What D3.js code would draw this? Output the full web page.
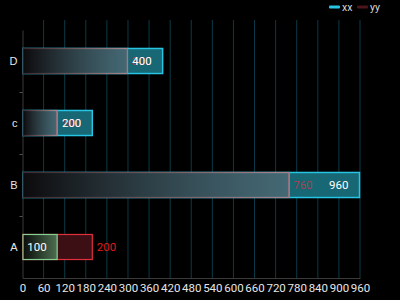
<!DOCTYPE html>
<html>
<head>
<meta charset="utf-8">
<script src="https://cdn.jsdelivr.net/npm/d3@7"></script>
<style>
  html, body { margin: 0; padding: 0; background: #000; }
  svg { display: block; font-family: Roboto, "Noto Sans", sans-serif; }
  .narrow { font-family: "Liberation Sans Narrow", Roboto, sans-serif; }
</style>
</head>
<body>
<div id="chart"></div>
<script>
const categories = ['A', 'B', 'c', 'D'];
const xxValues = [100, 960, 200, 400];
const yyValues = [200, 760, 100, 300];
const xTicks = [0, 60, 120, 180, 240, 300, 360, 420, 480, 540, 600, 660, 720, 780, 840, 900, 960];
const seriesNames = ['xx', 'yy'];

const width = 400;
const height = 300;
const margin = {top: 30, right: 40, bottom: 22, left: 22.5};

const svg = d3.select('#chart').append('svg')
  .attr('width', width)
  .attr('height', height);

const defs = svg.append('defs');

const yyFill = defs.append('linearGradient').attr('id', 'yy-fill');
yyFill.append('stop').attr('offset', '0%').attr('stop-color', '#0c0a0c').attr('stop-opacity', 1);
yyFill.append('stop').attr('offset', '100%').attr('stop-color', '#5c6a74').attr('stop-opacity', 0.65);

const yyStroke = defs.append('linearGradient').attr('id', 'yy-stroke');
yyStroke.append('stop').attr('offset', '0%').attr('stop-color', '#3a2a30');
yyStroke.append('stop').attr('offset', '100%').attr('stop-color', '#a88890');

const greenFill = defs.append('linearGradient').attr('id', 'green-fill');
greenFill.append('stop').attr('offset', '0%').attr('stop-color', '#0a0c0a');
greenFill.append('stop').attr('offset', '100%').attr('stop-color', '#4d6e50');

const x = d3.scaleLinear()
  .domain([0, 960])
  .range([margin.left, width - margin.right]);

const y = d3.scaleBand()
  .domain(categories.slice().reverse())
  .range([margin.top, height - margin.bottom]);

const barH = y.bandwidth() * 0.42;
const barY = c => y(c) + (y.bandwidth() - barH) / 2;

// vertical grid
svg.append('g')
  .selectAll('line')
  .data(xTicks.slice(1))
  .enter().append('line')
    .attr('x1', d => x(d)).attr('x2', d => x(d))
    .attr('y1', margin.top - 10).attr('y2', height - margin.bottom)
    .attr('stroke', '#0b3a47')
    .attr('stroke-width', 1);

// x axis
const xAxis = svg.append('g')
  .attr('transform', `translate(0,${height - margin.bottom})`)
  .call(d3.axisBottom(x).tickValues(xTicks).tickSize(0).tickPadding(6));
xAxis.select('.domain').attr('stroke', '#3a3a3a');
xAxis.selectAll('text').attr('class', 'narrow').attr('fill', '#e6e6e6').style('font-size', '11.5px');

// y axis
const yAxis = svg.append('g')
  .attr('transform', `translate(${margin.left},0)`)
  .call(d3.axisLeft(y).tickSize(0).tickPadding(5));
yAxis.select('.domain').attr('stroke', '#3a3a3a');
yAxis.selectAll('text').attr('fill', '#e6e6e6').style('font-size', '11px');
yAxis.selectAll('.band-tick')
  .data(categories.slice(1))
  .enter().append('line')
    .attr('x1', -3).attr('x2', 0)
    .attr('y1', c => y(c) + y.bandwidth() + 0.5)
    .attr('y2', c => y(c) + y.bandwidth() + 0.5)
    .attr('stroke', '#555');

const rows = categories.map((c, i) => ({cat: c, xx: xxValues[i], yy: yyValues[i]}));
const bars = svg.append('g');
const labelSize = '11.5px';

rows.forEach(r => {
  const g = bars.append('g');
  const midY = barY(r.cat) + barH / 2;
  if (r.cat === 'A') {
    g.append('rect')
      .attr('x', x(0) + 0.5).attr('y', barY(r.cat) + 0.5)
      .attr('width', x(r.yy) - x(0) - 1).attr('height', barH - 1)
      .attr('fill', '#3c0f15').attr('stroke', '#e0303c').attr('stroke-width', 1.2);
    g.append('rect')
      .attr('x', x(0) + 0.5).attr('y', barY(r.cat) + 0.5)
      .attr('width', x(r.xx) - x(0) - 1).attr('height', barH - 1)
      .attr('fill', 'url(#green-fill)').attr('stroke', '#86cf92').attr('stroke-width', 1.2);
    g.append('text').attr('class', 'narrow')
      .attr('x', x(r.yy) + 4).attr('y', midY)
      .attr('dy', '0.35em').attr('fill', '#e01a1a').style('font-size', labelSize)
      .text(r.yy);
    g.append('text').attr('class', 'narrow')
      .attr('x', x(r.xx) - 11).attr('y', midY)
      .attr('dy', '0.35em').attr('text-anchor', 'end').attr('fill', '#fff').style('font-size', labelSize)
      .text(r.xx);
  } else {
    g.append('rect')
      .attr('x', x(0) + 0.5).attr('y', barY(r.cat) + 0.5)
      .attr('width', x(r.xx) - x(0) - 1).attr('height', barH - 1)
      .attr('fill', '#176775').attr('stroke', '#27c4e4').attr('stroke-width', 1.5);
    g.append('rect')
      .attr('x', x(0) + 0.5).attr('y', barY(r.cat) + 0.5)
      .attr('width', x(r.yy) - x(0) - 1).attr('height', barH - 1)
      .attr('fill', 'url(#yy-fill)').attr('stroke', 'url(#yy-stroke)').attr('stroke-width', 1.2);
    g.append('line')
      .attr('x1', x(r.yy) - 0.5).attr('x2', x(r.yy) - 0.5)
      .attr('y1', barY(r.cat) + 0.5).attr('y2', barY(r.cat) + barH - 0.5)
      .attr('stroke', '#c06a7c').attr('stroke-width', 1.2);
    g.append('text').attr('class', 'narrow')
      .attr('x', x(r.yy) + 3.5).attr('y', midY)
      .attr('dy', '0.35em').attr('fill', '#a8404e').style('font-size', labelSize)
      .text(r.yy);
    g.append('text').attr('class', 'narrow')
      .attr('x', x(r.xx) - 11.5).attr('y', midY)
      .attr('dy', '0.35em').attr('text-anchor', 'end').attr('fill', '#fff').style('font-size', labelSize)
      .text(r.xx);
  }
});

// legend
const legendColors = ['#27c4e4', '#4a161a'];
const legend = svg.append('g').attr('transform', 'translate(329,7)');
seriesNames.forEach((name, i) => {
  const lg = legend.append('g').attr('transform', `translate(${i * 28},0)`);
  lg.append('rect')
    .attr('x', 0).attr('y', -1.5).attr('width', 11).attr('height', 3).attr('rx', 1)
    .attr('fill', legendColors[i]);
  lg.append('text')
    .attr('x', 13).attr('y', 0).attr('dy', '0.35em')
    .attr('fill', '#d8d8d8').style('font-size', '10.5px')
    .text(name);
});
</script>
</body>
</html>
